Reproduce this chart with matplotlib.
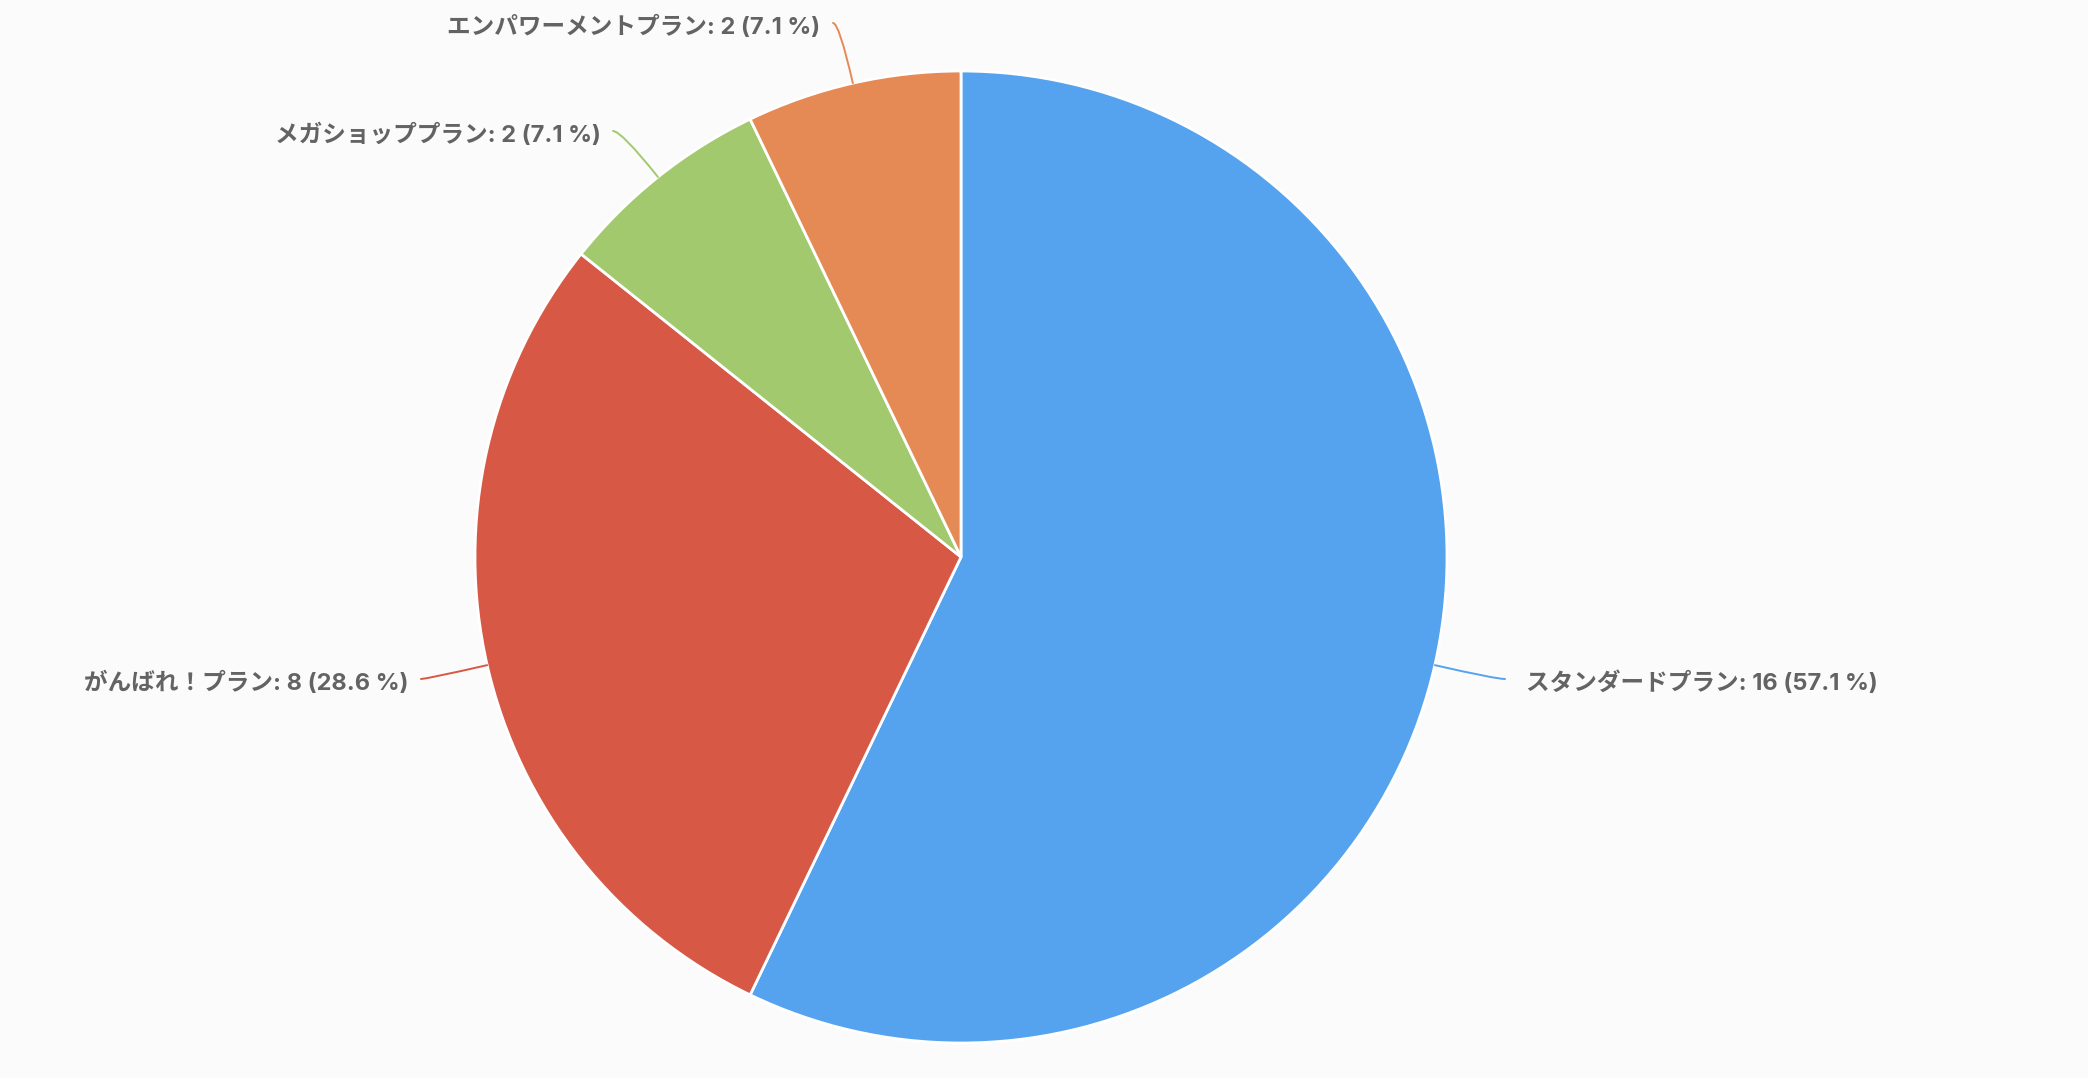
import numpy as np
import matplotlib
matplotlib.use("Agg")
import matplotlib.pyplot as plt

# Latin glyphs from Inter, kana from Noto Sans CJK
plt.rcParams['font.family'] = ['Inter', 'Noto Sans CJK JP', 'DejaVu Sans']

# data
plans = ["スタンダードプラン", "がんばれ！プラン", "メガショッププラン", "エンパワーメントプラン"]
counts = [16, 8, 2, 2]
colors = ["#55A3EE", "#D75845", "#A3C96E", "#E58A54"]

W, H = 2088, 1078
bg = "#FBFBFB"

fig = plt.figure(figsize=(W / 100, H / 100), dpi=100, facecolor=bg)
ax = fig.add_axes([0, 0, 1, 1])
ax.set_facecolor(bg)

cx, cy, r = 961, H - 557, 486

wedges, _ = ax.pie(counts, colors=colors, startangle=90, counterclock=False,
                   center=(cx, cy), radius=r, frame=True,
                   wedgeprops=dict(edgecolor="white", linewidth=2))
ax.set_xlim(0, W)
ax.set_ylim(0, H)
ax.axis("off")

# label layout: (text anchor x, text y in image px, line start x, line start y, ha)
layout = [
    (1526, 683, 1505, 679, "left"),
    (408, 683, 421, 679, "right"),
    (601, 135, 613, 131, "right"),
    (820, 27, 833, 23, "right"),
]

total = sum(counts)
for w, name, n, col, (tx, ty, lx, ly, ha) in zip(wedges, plans, counts, colors, layout):
    theta = (w.theta1 + w.theta2) / 2
    ex = cx + r * np.cos(np.radians(theta))
    ey = cy + r * np.sin(np.radians(theta))
    ax.annotate("", xy=(ex, ey), xytext=(lx, H - ly),
                arrowprops=dict(arrowstyle="-", color=col, lw=1.4,
                                shrinkA=0, shrinkB=0,
                                connectionstyle=f"angle3,angleA=0,angleB={theta}"))
    ax.text(tx, H - ty, f"{name}: {n} ({n / total * 100:.1f} %)",
            ha=ha, va="center", fontsize=17, fontweight="bold", color="#636363")

fig.savefig("out.png", dpi=100, facecolor=bg)
